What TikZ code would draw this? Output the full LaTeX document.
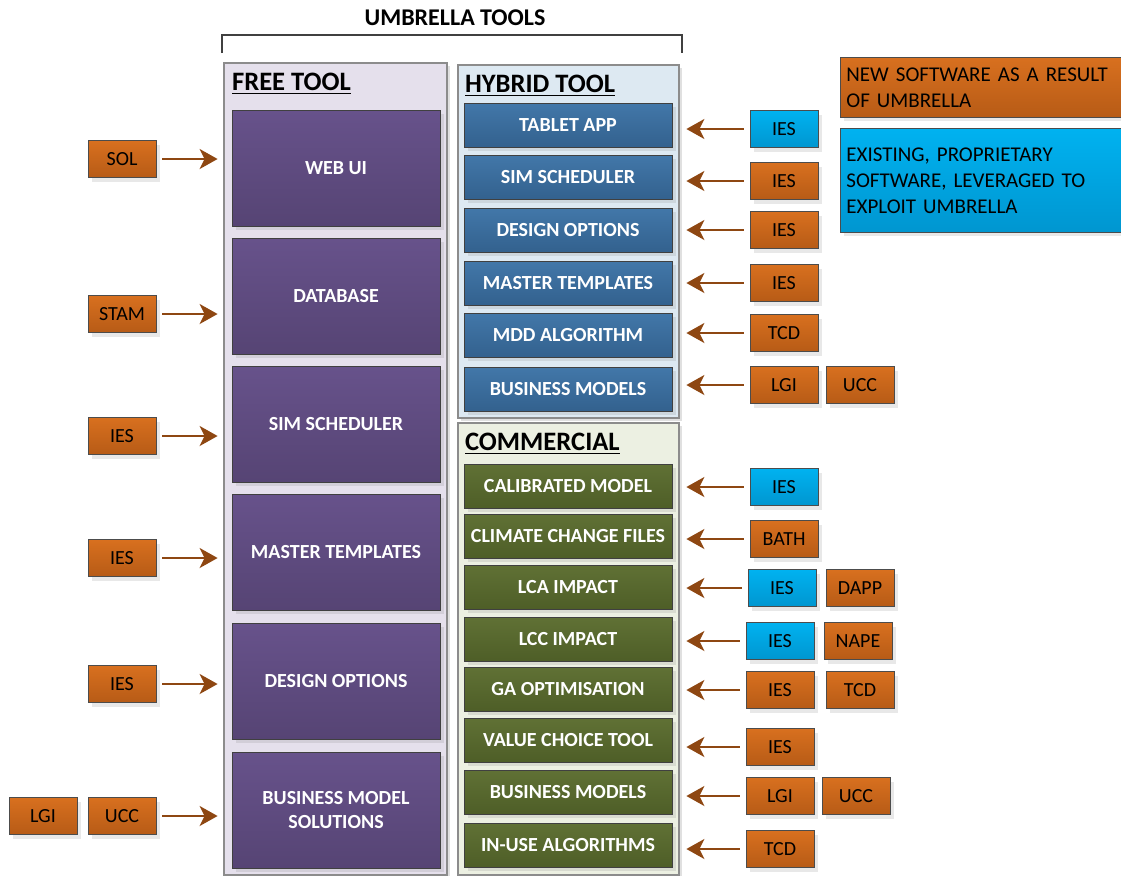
\documentclass[tikz,border=0pt]{standalone}
\usepackage{fontspec}
\setmainfont{Carlito}
\usetikzlibrary{positioning,arrows.meta,shadows}

\definecolor{orgtop}{HTML}{D8701F}
\definecolor{orgbot}{HTML}{B75B16}
\definecolor{cyantop}{HTML}{00B2F0}
\definecolor{cyanbot}{HTML}{0096D0}
\definecolor{purtop}{HTML}{67528B}
\definecolor{purbot}{HTML}{564474}
\definecolor{blutop}{HTML}{4277A9}
\definecolor{blubot}{HTML}{33618E}
\definecolor{grntop}{HTML}{607135}
\definecolor{grnbot}{HTML}{4E5E27}
\definecolor{arrowbrown}{HTML}{8E4712}

\begin{document}
\begin{tikzpicture}[x=0.5pt,y=-0.5pt,
    shade/.style={drop shadow={shadow xshift=2pt,shadow yshift=-2pt,opacity=0.18}},
    freebox/.style={draw=black!75,shade,top color=purtop,bottom color=purbot,text=white,font=\bfseries,
        minimum width=104pt,minimum height=58pt,align=center,inner sep=0pt},
    hybox/.style={draw=black!75,shade,top color=blutop,bottom color=blubot,text=white,font=\bfseries,
        minimum width=104pt,minimum height=22pt,inner sep=0pt},
    combox/.style={hybox,top color=grntop,bottom color=grnbot},
    newsw/.style={draw=black!70,shade,top color=orgtop,bottom color=orgbot,minimum width=34pt,minimum height=18.5pt,inner sep=0pt},
    oldsw/.style={newsw,top color=cyantop,bottom color=cyanbot},
    head/.style={anchor=west,font=\fontsize{13.3}{15}\selectfont\bfseries},
    keybox/.style={anchor=north west,minimum width=142pt,align=left,text width=136pt,inner xsep=3pt,
        font=\fontsize{10.5}{13}\selectfont},
    feed/.style={-{Stealth[length=9pt,width=10pt,inset=2.5pt]},arrowbrown,line width=1.2pt,
        shorten <=3pt,shorten >=7pt}]

    \useasboundingbox (0,0) rectangle (1121,875);

    % umbrella bracket
    \node[font=\fontsize{12}{14}\selectfont\bfseries] (umb) at (455,18) {UMBRELLA TOOLS};
    \draw[black!75,line width=0.8pt] (222,53) -- (222,35) -- (682,35) -- (682,53);

    % panels
    \fill[black!12] (227,66) rectangle (450,878);
    \filldraw[fill={rgb,255:red,229;green,224;blue,236},draw=black!45,line width=0.8pt] (224,63) rectangle (447,875);
    \fill[black!12] (461,68) rectangle (682,421);
    \filldraw[fill={rgb,255:red,221;green,233;blue,242},draw=black!45,line width=0.8pt] (458,65) rectangle (679,418);
    \fill[black!12] (461,426) rectangle (682,878);
    \filldraw[fill={rgb,255:red,236;green,240;blue,226},draw=black!45,line width=0.8pt] (458,423) rectangle (679,875);
    \node[head] at (225,84) {\underline{FREE TOOL}};
    \node[head] at (458,86) {\underline{HYBRID TOOL}};
    \node[head] at (458,444) {\underline{COMMERCIAL}};

    % free tool
    \node[freebox] (web) at (336,168) {WEB UI};
    \node[freebox] (db) at (336,296) {DATABASE};
    \node[freebox] (fsim) at (336,424) {SIM SCHEDULER};
    \node[freebox] (ftmp) at (336,552) {MASTER TEMPLATES};
    \node[freebox] (fopt) at (336,681) {DESIGN OPTIONS};
    \node[freebox] (fbus) at (336,810) {BUSINESS MODEL\\SOLUTIONS};

    \node[newsw] (sol) at (122,159) {SOL};
    \node[newsw] (stam) at (122,314) {STAM};
    \node[newsw] (ies1) at (122,436) {IES};
    \node[newsw] (ies2) at (122,558) {IES};
    \node[newsw] (ies3) at (122,684) {IES};
    \node[newsw] (ucc1) at (122,816) {UCC};
    \node[newsw] (lgi1) at (43,816) {LGI};

    \draw[feed] (sol) -- (sol -| web.west);
    \draw[feed] (stam) -- (stam -| db.west);
    \draw[feed] (ies1) -- (ies1 -| fsim.west);
    \draw[feed] (ies2) -- (ies2 -| ftmp.west);
    \draw[feed] (ies3) -- (ies3 -| fopt.west);
    \draw[feed] (ucc1) -- (ucc1 -| fbus.west);

    % hybrid tool
    \node[hybox] (tab) at (568,125) {TABLET APP};
    \node[hybox] (hsim) at (568,177) {SIM SCHEDULER};
    \node[hybox] (hopt) at (568,230) {DESIGN OPTIONS};
    \node[hybox] (htmp) at (568,283) {MASTER TEMPLATES};
    \node[hybox] (mdd) at (568,335) {MDD ALGORITHM};
    \node[hybox] (hbus) at (568,389) {BUSINESS MODELS};

    \node[oldsw] (ies4) at (784,129) {IES};
    \node[newsw] (ies5) at (784,181) {IES};
    \node[newsw] (ies6) at (784,230) {IES};
    \node[newsw] (ies7) at (784,283) {IES};
    \node[newsw] (tcd1) at (784,333) {TCD};
    \node[newsw] (lgi2) at (784,385) {LGI};
    \node[newsw] (ucc2) at (860,385) {UCC};

    \draw[feed] (ies4) -- (ies4 -| tab.east);
    \draw[feed] (ies5) -- (ies5 -| hsim.east);
    \draw[feed] (ies6) -- (ies6 -| hopt.east);
    \draw[feed] (ies7) -- (ies7 -| htmp.east);
    \draw[feed] (tcd1) -- (tcd1 -| mdd.east);
    \draw[feed] (lgi2) -- (lgi2 -| hbus.east);

    % commercial
    \node[combox] (cal) at (568,486) {CALIBRATED MODEL};
    \node[combox] (clim) at (568,536) {CLIMATE CHANGE FILES};
    \node[combox] (lca) at (568,587) {LCA IMPACT};
    \node[combox] (lcc) at (568,639) {LCC IMPACT};
    \node[combox] (ga) at (568,689) {GA OPTIMISATION};
    \node[combox] (val) at (568,740) {VALUE CHOICE TOOL};
    \node[combox] (cbus) at (568,792) {BUSINESS MODELS};
    \node[combox] (inuse) at (568,845) {IN-USE ALGORITHMS};

    \node[oldsw] (ies8) at (784,487) {IES};
    \node[newsw] (bath) at (784,539) {BATH};
    \node[oldsw] (ies9) at (782,588) {IES};
    \node[newsw] (dapp) at (860,588) {DAPP};
    \node[oldsw] (ies10) at (780,641) {IES};
    \node[newsw] (nape) at (858,641) {NAPE};
    \node[newsw] (ies11) at (780,690) {IES};
    \node[newsw] (tcd2) at (860,690) {TCD};
    \node[newsw] (ies12) at (780,747) {IES};
    \node[newsw] (lgi3) at (780,796) {LGI};
    \node[newsw] (ucc3) at (856,796) {UCC};
    \node[newsw] (tcd3) at (780,849) {TCD};

    \draw[feed] (ies8) -- (ies8 -| cal.east);
    \draw[feed] (bath) -- (bath -| clim.east);
    \draw[feed] (ies9) -- (ies9 -| lca.east);
    \draw[feed] (ies10) -- (ies10 -| lcc.east);
    \draw[feed] (ies11) -- (ies11 -| ga.east);
    \draw[feed] (ies12) -- (ies12 -| val.east);
    \draw[feed] (lgi3) -- (lgi3 -| cbus.east);
    \draw[feed] (tcd3) -- (tcd3 -| inuse.east);

    % key
    \node[newsw,keybox,minimum height=30pt] (keynew) at (840,57) {NEW SOFTWARE AS A RESULT\\OF UMBRELLA};
    \node[oldsw,keybox,minimum height=52pt] (keyold) at (840,128) {EXISTING, PROPRIETARY\\SOFTWARE, LEVERAGED TO\\EXPLOIT UMBRELLA};
\end{tikzpicture}
\end{document}
